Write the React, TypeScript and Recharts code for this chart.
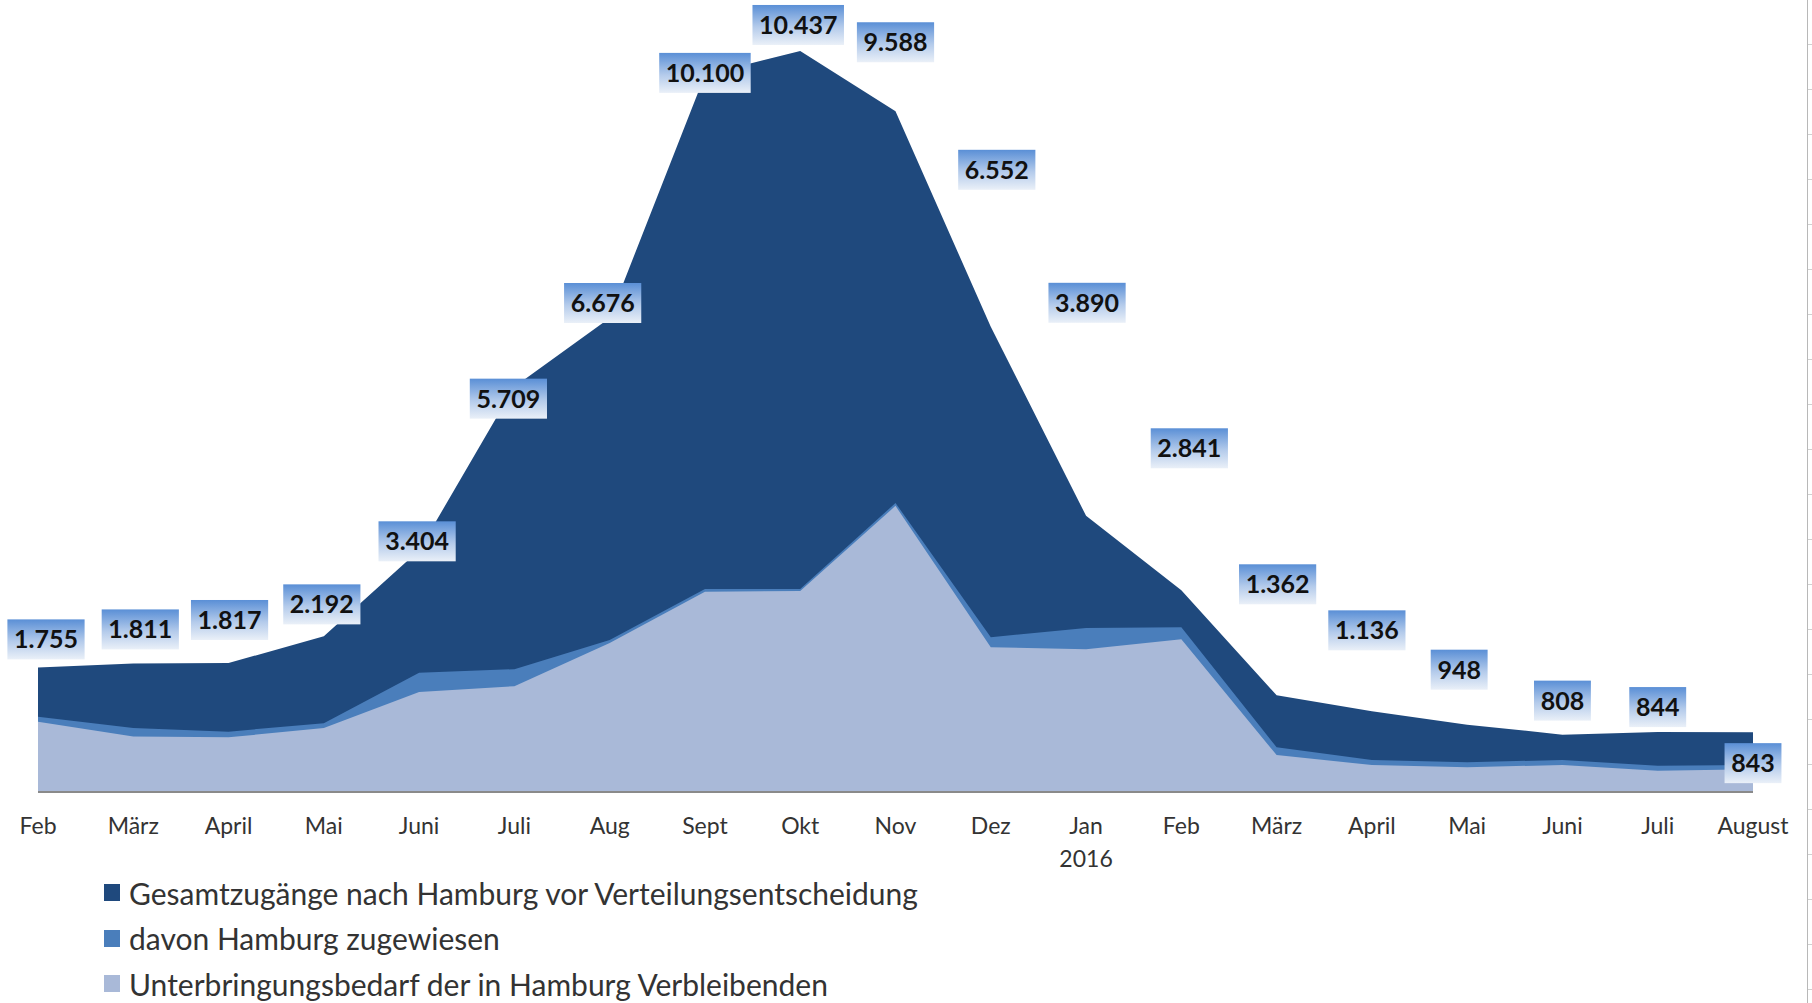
import React from "react"
import { AreaChart, Area, XAxis, YAxis, LabelList } from "recharts"

// Monthly figures Feb 2015 – Aug 2016.
const MONTHS = [
  "Feb", "März", "April", "Mai", "Juni", "Juli", "Aug", "Sept", "Okt", "Nov",
  "Dez", "Jan", "Feb", "März", "April", "Mai", "Juni", "Juli", "August",
]
const YEAR_ROW = ["", "", "", "", "", "", "", "", "", "", "", "2016", "", "", "", "", "", "", ""]

const TOTAL = [
  1755, 1811, 1817, 2192, 3404, 5709, 6676, 10100, 10437, 9588,
  6552, 3890, 2841, 1362, 1136, 948, 808, 844, 843,
]
const ASSIGNED = [
  1060, 900, 850, 970, 1680, 1730, 2140, 2860, 2860, 4070,
  2180, 2310, 2320, 630, 450, 420, 450, 370, 380,
]
const REMAINING = [
  990, 780, 770, 900, 1410, 1490, 2100, 2820, 2830, 4030,
  2040, 2010, 2150, 520, 380, 350, 380, 300, 320,
]

const SERIES = [
  { key: "total", name: "Gesamtzugänge nach Hamburg vor Verteilungsentscheidung", color: "#1f497d" },
  { key: "assigned", name: "davon Hamburg zugewiesen", color: "#4a7ebb" },
  { key: "remaining", name: "Unterbringungsbedarf der in Hamburg Verbleibenden", color: "#a9b9d8" },
]

// The value tags were hand-placed in the original; these are their
// offsets from the data point (px), not data.
const TAG_LIFT = [28, 34, 43, 32, 9, -12, 15, 2, 26, 69, 157, 213, 142, 111, 81, 55, 34, 25, -31]
const TAG_SHIFT = [8, 7, 1, -2, -2, -6, -7, 0, -2, 0, 6, 1, 8, 1, -5, -8, 0, 0, 0]

const FONT = "Lato, 'Open Sans', sans-serif"

const data = MONTHS.map((m, i) => ({
  month: m,
  year: YEAR_ROW[i],
  total: TOTAL[i],
  assigned: ASSIGNED[i],
  remaining: REMAINING[i],
}))

const fmt = (v: number) => String(v).replace(/\B(?=(\d{3})+(?!\d))/g, ".")

function ValueTag(props: any) {
  const { x, y, index, value } = props
  const text = fmt(Number(value))
  const digits = text.replace(/\./g, "").length
  const dots = text.length - digits
  const w = digits * 14.3 + dots * 6 + 14
  const h = 40
  const cx = x + TAG_SHIFT[index]
  const cy = y - TAG_LIFT[index]
  return (
    <g>
      <rect x={cx - w / 2} y={cy - h / 2} width={w} height={h} fill="url(#tagFill)" />
      <text
        x={cx}
        y={cy + 9}
        textAnchor="middle"
        fontFamily={FONT}
        fontWeight={700}
        fontSize={25}
        fill="#111"
      >
        {text}
      </text>
    </g>
  )
}

function MonthTick(props: any) {
  const { x, y, payload } = props
  const year = YEAR_ROW[payload.index]
  return (
    <g>
      <text x={x} y={y + 34} textAnchor="middle" fontFamily={FONT} fontSize={23} fill="#333">
        {payload.value}
      </text>
      {year && (
        <text x={x} y={y + 67} textAnchor="middle" fontFamily={FONT} fontSize={23} fill="#333">
          {year}
        </text>
      )}
    </g>
  )
}

export default function App() {
  return (
    <div style={{ position: "relative", width: 1812, height: 1003, overflow: "hidden", background: "#fff" }}>
      <style>{"body{margin:0;overflow:hidden}"}</style>
      <AreaChart
        width={1812}
        height={1003}
        data={data}
        margin={{ top: 11, right: 59, bottom: 151, left: 38 }}
      >
        <defs>
          <linearGradient id="tagFill" x1="0" y1="0" x2="0" y2="1">
            <stop offset="0%" stopColor="#5a8fd6" />
            <stop offset="55%" stopColor="#b4cbeb" />
            <stop offset="100%" stopColor="#eaf0f8" />
          </linearGradient>
        </defs>
        <XAxis
          dataKey="month"
          interval={0}
          height={60}
          tickLine={false}
          axisLine={{ stroke: "#8a8a8a", strokeWidth: 2 }}
          tick={<MonthTick />}
        />
        <YAxis hide domain={[0, 11000]} />
        {SERIES.map((s) => (
          <Area
            key={s.key}
            type="linear"
            dataKey={s.key}
            stroke="none"
            fill={s.color}
            fillOpacity={1}
            isAnimationActive={false}
          />
        ))}
        {/* invisible copy of the total on top, so its tags sit above every area */}
        <Area
          type="linear"
          dataKey="total"
          stroke="none"
          fill="none"
          isAnimationActive={false}
        >
          <LabelList dataKey="total" content={<ValueTag />} />
        </Area>
      </AreaChart>

      <div style={{ position: "absolute", left: 104, top: 870, fontFamily: FONT, fontSize: 30, color: "#333" }}>
        {SERIES.map((s) => (
          <div key={s.key} style={{ display: "flex", alignItems: "center", height: 45.5, whiteSpace: "nowrap" }}>
            <span style={{ display: "inline-block", width: 16, height: 17, background: s.color, marginRight: 9 }} />
            {s.name}
          </div>
        ))}
      </div>

      <div style={{ position: "absolute", left: 1807, top: 0, width: 1, height: 1003, background: "#b8b8b8" }} />
      <div
        style={{
          position: "absolute",
          left: 1808,
          top: 0,
          width: 4,
          height: 1003,
          background: "repeating-linear-gradient(to bottom, transparent 0px, transparent 44px, #d0d0d0 44px, #d0d0d0 45px)",
        }}
      />
    </div>
  )
}
